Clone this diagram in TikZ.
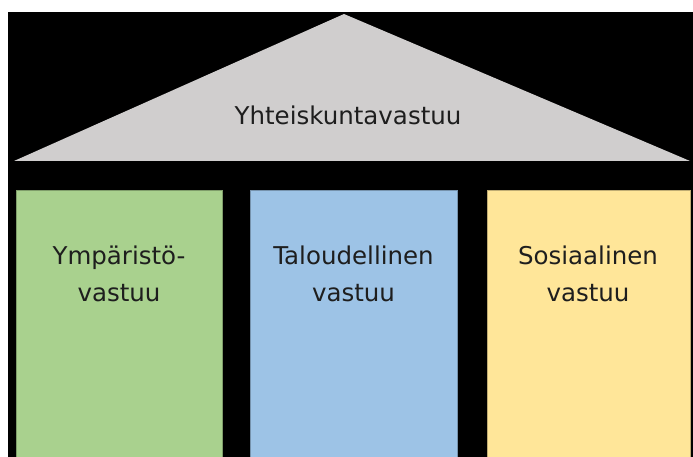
\documentclass[tikz,border=0pt]{standalone}
\usepackage{fontspec}
\setmainfont{DejaVu Sans}
\definecolor{roofgray}{HTML}{D0CECE}
\definecolor{pgreen}{HTML}{A9D18E}
\definecolor{pblue}{HTML}{9DC3E6}
\definecolor{pyellow}{HTML}{FFE699}
\definecolor{txt}{HTML}{1E1E1E}
\begin{document}
\begin{tikzpicture}[x=1pt,y=1pt,
  pillar/.style={draw=#1!75!black, line width=0.8pt, fill=#1},
  lbl/.style={text=txt, align=center, inner sep=0pt, font=\fontsize{24.5}{37}\selectfont}]
\useasboundingbox (0,0) rectangle (693,457);
\fill[white] (0,0) rectangle (693,457);
\fill[black] (8,0) rectangle (693,445);
% roof
\fill[roofgray] (14,296) -- (344,443) -- (690,296) -- cycle;
\node[lbl] (roof) at (348,341.5) {Yhteiskuntavastuu};
% pillars
\path[pillar=pgreen] (16,-2) rectangle (222,267);
\path[pillar=pblue] (250,-2) rectangle (457,267);
\path[pillar=pyellow] (487,-2) rectangle (690,267);
\node[lbl] (env) at (119,183) {Ympäristö-\\vastuu};
\node[lbl] (eco) at (353.5,183) {Taloudellinen\\vastuu};
\node[lbl] (soc) at (588,183) {Sosiaalinen\\vastuu};
\end{tikzpicture}
\end{document}
